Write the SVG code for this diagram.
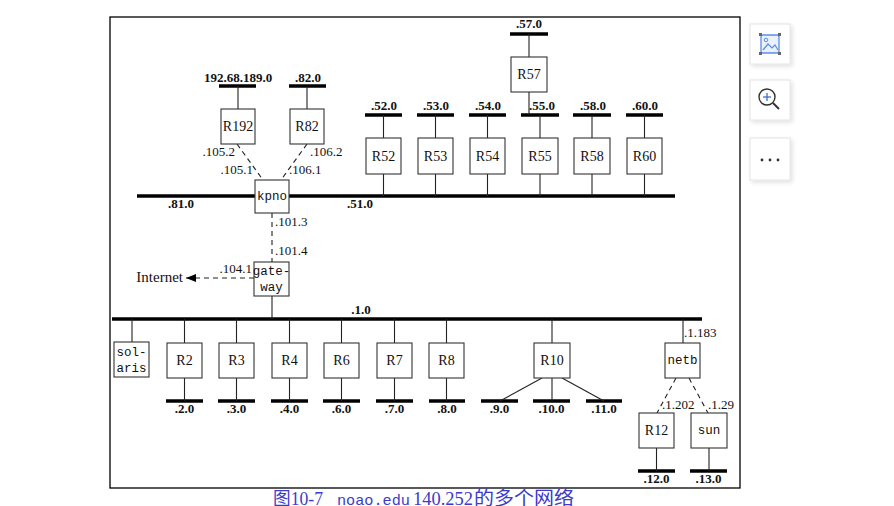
<svg xmlns="http://www.w3.org/2000/svg" width="894" height="506" viewBox="0 0 894 506">
<defs>
<marker id="ah" viewBox="0 0 10 8" refX="10" refY="4" markerWidth="11" markerHeight="8" orient="auto" markerUnits="userSpaceOnUse">
<path d="M0,0 L10,4 L0,8 Z" fill="#000"/>
</marker>
<filter id="sh" x="-20%" y="-20%" width="150%" height="150%">
<feDropShadow dx="2" dy="2" stdDeviation="2" flood-color="#000" flood-opacity="0.12"/>
</filter>
</defs>
<style>
.bus{stroke:#000;stroke-width:3.6;fill:none}
.ln{stroke:#222;stroke-width:1.1;fill:none}
.dash{stroke:#222;stroke-width:1.1;fill:none;stroke-dasharray:5 4}
.box{fill:#fff;stroke:#333;stroke-width:1.1}
.r{font-family:"Liberation Serif",serif;font-size:14px;text-anchor:middle;fill:#111}
.m{font-family:"Liberation Mono",monospace;font-size:12.5px;text-anchor:middle;fill:#111}
.net{font-family:"Liberation Serif",serif;font-size:13px;font-weight:bold;text-anchor:middle;fill:#111}
.a{font-family:"Liberation Serif",serif;font-size:13px;fill:#111}
.e{text-anchor:end}
.inet{font-family:"Liberation Serif",serif;font-size:15px;text-anchor:end;fill:#111}
.cap{font-family:"Liberation Serif","Noto Sans CJK SC",serif;font-size:18px;fill:#3b3bcc}
.capm{font-family:"Liberation Mono",monospace;font-size:15px;fill:#3b3bcc}
.capc{font-family:"Noto Sans CJK SC",sans-serif;font-size:19px;fill:#3b3bcc}
.btn{fill:#fff;stroke:#e4e4e4;stroke-width:1}
</style>
<rect x="0" y="0" width="894" height="506" fill="#fff"/>
<rect x="110" y="17" width="630" height="471" fill="#fff" stroke="#000" stroke-width="1.3"/>

<g id="connectors">
<line class="bus" x1="137" y1="196" x2="675" y2="196"/>
<line class="bus" x1="112" y1="319" x2="702" y2="319"/>
<line class="bus" x1="219" y1="86" x2="256" y2="86"/>
<line class="bus" x1="289" y1="86" x2="326" y2="86"/>
<line class="bus" x1="510" y1="34" x2="548" y2="34"/>
<line class="bus" x1="365" y1="115" x2="402" y2="115"/>
<line class="bus" x1="417" y1="115" x2="454" y2="115"/>
<line class="bus" x1="469" y1="115" x2="506" y2="115"/>
<line class="bus" x1="521" y1="115" x2="559" y2="115"/>
<line class="bus" x1="573" y1="115" x2="611" y2="115"/>
<line class="bus" x1="626" y1="115" x2="663" y2="115"/>
<line class="bus" x1="166" y1="401" x2="203" y2="401"/>
<line class="bus" x1="218" y1="401" x2="255" y2="401"/>
<line class="bus" x1="271" y1="401" x2="308" y2="401"/>
<line class="bus" x1="323" y1="401" x2="360" y2="401"/>
<line class="bus" x1="376" y1="401" x2="413" y2="401"/>
<line class="bus" x1="429" y1="401" x2="465" y2="401"/>
<line class="bus" x1="481" y1="401" x2="518" y2="401"/>
<line class="bus" x1="533" y1="401" x2="570" y2="401"/>
<line class="bus" x1="586" y1="401" x2="622" y2="401"/>
<line class="bus" x1="638" y1="471" x2="675" y2="471"/>
<line class="bus" x1="690" y1="471" x2="727" y2="471"/>
<line class="ln" x1="238" y1="86" x2="238" y2="109"/>
<line class="ln" x1="307" y1="86" x2="307" y2="109"/>
<line class="ln" x1="529" y1="34" x2="529" y2="57"/>
<line class="ln" x1="529" y1="92" x2="529" y2="115"/>
<line class="ln" x1="383.5" y1="115" x2="383.5" y2="196"/>
<line class="ln" x1="435.5" y1="115" x2="435.5" y2="196"/>
<line class="ln" x1="487.5" y1="115" x2="487.5" y2="196"/>
<line class="ln" x1="540" y1="115" x2="540" y2="196"/>
<line class="ln" x1="592" y1="115" x2="592" y2="196"/>
<line class="ln" x1="644.5" y1="115" x2="644.5" y2="196"/>
<line class="ln" x1="272" y1="296" x2="272" y2="319"/>
<line class="ln" x1="132" y1="319" x2="132" y2="342"/>
<line class="ln" x1="184.5" y1="319" x2="184.5" y2="401"/>
<line class="ln" x1="236.5" y1="319" x2="236.5" y2="401"/>
<line class="ln" x1="289.5" y1="319" x2="289.5" y2="401"/>
<line class="ln" x1="341.5" y1="319" x2="341.5" y2="401"/>
<line class="ln" x1="394.5" y1="319" x2="394.5" y2="401"/>
<line class="ln" x1="446.5" y1="319" x2="446.5" y2="401"/>
<line class="ln" x1="552" y1="319" x2="552" y2="401"/>
<line class="ln" x1="542" y1="378" x2="500" y2="401"/>
<line class="ln" x1="562" y1="378" x2="604" y2="401"/>
<line class="ln" x1="683" y1="319" x2="683" y2="343"/>
<line class="ln" x1="656.5" y1="448" x2="656.5" y2="471"/>
<line class="ln" x1="709" y1="448" x2="709" y2="471"/>
<line class="dash" x1="237" y1="144" x2="263" y2="180"/>
<line class="dash" x1="307" y1="144" x2="281" y2="180"/>
<line class="dash" x1="272" y1="213" x2="272" y2="262"/>
<line class="dash" x1="254" y1="278" x2="186" y2="278" marker-end="url(#ah)"/>
<line class="dash" x1="676" y1="378" x2="657" y2="413"/>
<line class="dash" x1="689" y1="378" x2="708" y2="413"/>
</g>

<g id="R192"><rect class="box" x="221" y="109" width="34" height="35"/><text class="r" x="238" y="131">R192</text></g>
<g id="R82"><rect class="box" x="290" y="109" width="34" height="35"/><text class="r" x="307" y="131">R82</text></g>
<g id="kpno"><rect class="box" x="255" y="180" width="34" height="33"/><text class="m" x="272" y="200">kpno</text></g>
<g id="gateway"><rect class="box" x="254" y="262" width="35" height="34"/><text class="m" x="271.5" y="275">gate-</text><text class="m" x="271.5" y="291">way</text></g>
<g id="R57"><rect class="box" x="511" y="57" width="36" height="35"/><text class="r" x="529" y="79">R57</text></g>
<g id="R52"><rect class="box" x="366" y="138" width="35" height="36"/><text class="r" x="383.5" y="161">R52</text></g>
<g id="R53"><rect class="box" x="418" y="138" width="35" height="36"/><text class="r" x="435.5" y="161">R53</text></g>
<g id="R54"><rect class="box" x="470" y="138" width="35" height="36"/><text class="r" x="487.5" y="161">R54</text></g>
<g id="R55"><rect class="box" x="522" y="138" width="36" height="36"/><text class="r" x="540" y="161">R55</text></g>
<g id="R58"><rect class="box" x="574" y="138" width="36" height="36"/><text class="r" x="592" y="161">R58</text></g>
<g id="R60"><rect class="box" x="627" y="138" width="35" height="36"/><text class="r" x="644.5" y="161">R60</text></g>
<g id="solaris"><rect class="box" x="114" y="342" width="35" height="35"/><text class="m" x="131.5" y="356">sol-</text><text class="m" x="131.5" y="372">aris</text></g>
<g id="R2"><rect class="box" x="167" y="343" width="35" height="35"/><text class="r" x="184.5" y="365">R2</text></g>
<g id="R3"><rect class="box" x="219" y="343" width="35" height="35"/><text class="r" x="236.5" y="365">R3</text></g>
<g id="R4"><rect class="box" x="272" y="343" width="35" height="35"/><text class="r" x="289.5" y="365">R4</text></g>
<g id="R6"><rect class="box" x="324" y="343" width="35" height="35"/><text class="r" x="341.5" y="365">R6</text></g>
<g id="R7"><rect class="box" x="377" y="343" width="35" height="35"/><text class="r" x="394.5" y="365">R7</text></g>
<g id="R8"><rect class="box" x="429" y="343" width="35" height="35"/><text class="r" x="446.5" y="365">R8</text></g>
<g id="R10"><rect class="box" x="534" y="343" width="36" height="35"/><text class="r" x="552" y="365">R10</text></g>
<g id="netb"><rect class="box" x="665" y="343" width="35" height="35"/><text class="m" x="682.5" y="364">netb</text></g>
<g id="R12"><rect class="box" x="639" y="413" width="35" height="35"/><text class="r" x="656.5" y="435">R12</text></g>
<g id="sun"><rect class="box" x="691" y="413" width="36" height="35"/><text class="m" x="709" y="434">sun</text></g>

<g id="labels">
<text class="net" x="238" y="82">192.68.189.0</text>
<text class="net" x="308" y="82">.82.0</text>
<text class="net" x="529" y="28">.57.0</text>
<text class="net" x="384" y="110">.52.0</text>
<text class="net" x="436" y="110">.53.0</text>
<text class="net" x="488" y="110">.54.0</text>
<text class="net" x="542" y="110">.55.0</text>
<text class="net" x="593" y="110">.58.0</text>
<text class="net" x="645" y="110">.60.0</text>
<text class="net" x="181" y="208">.81.0</text>
<text class="net" x="360" y="208">.51.0</text>
<text class="net" x="361" y="314">.1.0</text>
<text class="net" x="184.5" y="413">.2.0</text>
<text class="net" x="236.5" y="413">.3.0</text>
<text class="net" x="289.5" y="413">.4.0</text>
<text class="net" x="341.5" y="413">.6.0</text>
<text class="net" x="394.5" y="413">.7.0</text>
<text class="net" x="447" y="413">.8.0</text>
<text class="net" x="499.5" y="413">.9.0</text>
<text class="net" x="551.5" y="413">.10.0</text>
<text class="net" x="604" y="413">.11.0</text>
<text class="net" x="656.5" y="483">.12.0</text>
<text class="net" x="708.5" y="483">.13.0</text>
<text class="a e" x="235" y="156">.105.2</text>
<text class="a e" x="253" y="174">.105.1</text>
<text class="a" x="310" y="156">.106.2</text>
<text class="a" x="289" y="174">.106.1</text>
<text class="a" x="275" y="226">.101.3</text>
<text class="a" x="275" y="255">.101.4</text>
<text class="a e" x="252" y="273">.104.1</text>
<text class="inet" x="183" y="282">Internet</text>
<text class="a" x="684" y="337">.1.183</text>
<text class="a" x="662" y="409">.1.202</text>
<text class="a" x="708" y="409">.1.29</text>
</g>

<g id="caption">
<text class="cap" x="273" y="505" textLength="50" lengthAdjust="spacingAndGlyphs">图10-7</text>
<text class="capm" x="337" y="505" textLength="73" lengthAdjust="spacingAndGlyphs">noao.edu</text>
<text class="cap" x="413" y="505" textLength="60" lengthAdjust="spacingAndGlyphs">140.252</text>
<text class="capc" x="474" y="505" textLength="100" lengthAdjust="spacingAndGlyphs">的多个网络</text>
</g>

<g id="toolbar">
<rect class="btn" x="750" y="24" width="40" height="40" filter="url(#sh)"/>
<rect x="761" y="35" width="18" height="18" rx="2" fill="#eaf1fc" stroke="#5b8ee6" stroke-width="1.3"/>
<path d="M763,50 L768,44 L772,48 L775,45 L778,50" fill="none" stroke="#5b8ee6" stroke-width="1.2"/>
<circle cx="766" cy="40" r="1.8" fill="none" stroke="#5b8ee6" stroke-width="1"/>
<rect x="759" y="33" width="3" height="3" fill="#666"/><rect x="778" y="33" width="3" height="3" fill="#666"/>
<rect x="759" y="52" width="3" height="3" fill="#666"/><rect x="778" y="52" width="3" height="3" fill="#666"/>
<rect class="btn" x="750" y="80" width="40" height="40" filter="url(#sh)"/>
<circle cx="767" cy="97" r="8" fill="none" stroke="#333" stroke-width="1.4"/>
<line x1="773" y1="103" x2="779" y2="109" stroke="#333" stroke-width="2"/>
<line x1="763" y1="97" x2="771" y2="97" stroke="#3b6fd6" stroke-width="1.3"/>
<line x1="767" y1="93" x2="767" y2="101" stroke="#3b6fd6" stroke-width="1.3"/>
<rect class="btn" x="750" y="138" width="40" height="42" filter="url(#sh)"/>
<circle cx="762" cy="160" r="1.4" fill="#333"/><circle cx="770" cy="160" r="1.4" fill="#333"/><circle cx="778" cy="160" r="1.4" fill="#333"/>
</g>
</svg>
